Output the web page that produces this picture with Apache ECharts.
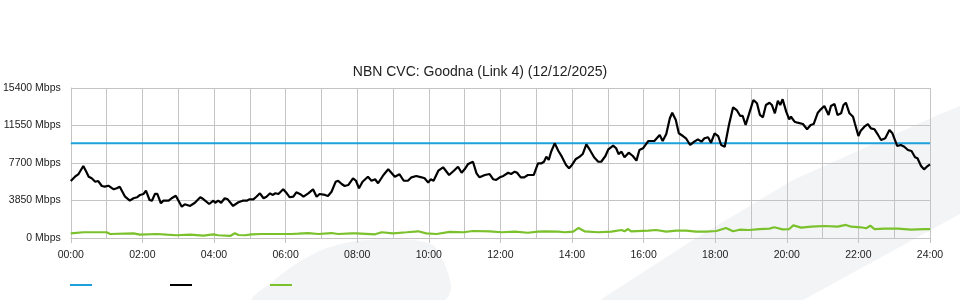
<!DOCTYPE html>
<html><head><meta charset="utf-8">
<script src="https://cdn.jsdelivr.net/npm/echarts@6/dist/echarts.min.js"></script>
<style>html,body{margin:0;padding:0;background:#fff}#c{width:960px;height:300px}</style>
</head><body><div id="c"></div>
<script>
const titleText = 'NBN CVC: Goodna (Link 4) (12/12/2025)';
const yTicks = [0, 3850, 7700, 11550, 15400];
const xTickHours = [0,2,4,6,8,10,12,14,16,18,20,22,24];
// [minute of day, Mbps]
const capacity = [[0,9720],[1440,9720]];
const traffic = [[0,5850],[7,6290],[13,6570],[16,6400],[21,7390],[26,6810],[30,6290],[35,6130],[41,5780],[46,5850],[52,5340],[57,5270],[63,5370],[72,5000],[77,5100],[82,5270],[85,5100],[91,4240],[99,3830],[105,4080],[111,4180],[116,4420],[122,4520],[126,4860],[132,3900],[136,3830],[141,4520],[145,4520],[151,3560],[155,3830],[164,3830],[169,4080],[176,4340],[186,3210],[191,3460],[200,3290],[208,3620],[217,4180],[222,4000],[232,3490],[239,3830],[242,3620],[247,3830],[252,3620],[258,4080],[263,3970],[272,3290],[281,3670],[288,3830],[295,3830],[299,3970],[306,3970],[311,4240],[317,4590],[323,4080],[328,4240],[334,4590],[338,4420],[343,4590],[348,4520],[356,5000],[362,4590],[367,4180],[373,4240],[378,4690],[384,4520],[390,4240],[398,4590],[406,5000],[412,4240],[417,4520],[426,4420],[431,4310],[437,4750],[444,5780],[448,5880],[454,5540],[459,5340],[465,5440],[473,6130],[478,5880],[483,5100],[489,5780],[498,6290],[504,5880],[510,6030],[515,5620],[524,6470],[532,7050],[538,6640],[543,6290],[551,6540],[558,5880],[565,5880],[571,6230],[579,6370],[588,6230],[593,6130],[599,5680],[603,6030],[608,5880],[616,6910],[624,7260],[634,6470],[642,6910],[649,7320],[655,6700],[660,7050],[666,7600],[674,7830],[680,6640],[685,6230],[694,6470],[702,6570],[708,6030],[713,5960],[719,6230],[725,6370],[733,6700],[738,6570],[744,6810],[748,6700],[754,6230],[760,6230],[766,6470],[776,6470],[783,7670],[789,7670],[793,7830],[797,8350],[801,8010],[805,8860],[811,9720],[817,8960],[823,8350],[830,7500],[835,7160],[840,7500],[846,8080],[853,8350],[858,8620],[864,9620],[870,9040],[877,8290],[884,7830],[889,7830],[896,8420],[901,9110],[909,9480],[914,9210],[918,8620],[923,8860],[928,8290],[935,8760],[942,8420],[948,7940],[953,9040],[959,9210],[965,9720],[968,9960],[978,9960],[987,10580],[992,9960],[998,10680],[1004,12290],[1008,12860],[1014,12120],[1019,10750],[1026,10470],[1031,10240],[1038,9550],[1045,9890],[1051,10130],[1057,9890],[1062,10240],[1068,10340],[1073,9780],[1079,10750],[1085,10470],[1090,9550],[1096,9370],[1103,11600],[1110,13420],[1116,13140],[1122,12530],[1126,12530],[1131,11600],[1137,12800],[1144,14170],[1150,13830],[1155,12630],[1160,12390],[1165,13660],[1171,13890],[1175,13660],[1180,12800],[1185,14100],[1189,13660],[1193,14240],[1199,12970],[1204,12190],[1207,12450],[1213,11940],[1218,11840],[1227,11700],[1234,11160],[1240,11600],[1245,11700],[1252,12860],[1257,13210],[1263,13550],[1270,12630],[1274,13550],[1280,13760],[1285,12630],[1291,12800],[1295,13660],[1299,13890],[1305,12800],[1311,12450],[1314,11780],[1320,10470],[1324,11020],[1330,11430],[1336,11700],[1341,11260],[1347,11160],[1353,10580],[1358,10060],[1365,10240],[1372,11090],[1377,10750],[1385,9450],[1391,9550],[1397,9370],[1403,9040],[1409,8930],[1415,8290],[1419,8180],[1425,7390],[1430,7050],[1436,7390],[1440,7570]];
const upload = [[0,480],[21,590],[44,590],[60,590],[66,410],[105,480],[116,340],[144,410],[161,340],[177,280],[200,340],[222,240],[239,380],[247,280],[267,210],[275,480],[281,310],[292,280],[303,380],[320,410],[348,410],[370,410],[381,440],[398,510],[415,410],[437,510],[448,410],[471,480],[479,480],[510,380],[521,590],[540,480],[563,590],[582,690],[596,480],[613,410],[635,620],[658,590],[674,720],[702,690],[722,590],[744,650],[766,540],[783,650],[794,690],[817,650],[828,590],[842,650],[851,1030],[861,690],[884,590],[906,650],[923,820],[928,690],[934,920],[939,690],[968,750],[981,820],[998,650],[1015,750],[1031,750],[1048,650],[1065,650],[1082,720],[1098,1030],[1110,690],[1121,850],[1137,820],[1154,920],[1171,960],[1179,1100],[1193,890],[1204,920],[1211,1300],[1224,1060],[1241,1160],[1263,1230],[1285,1160],[1299,1340],[1308,1160],[1324,1100],[1333,1000],[1340,1260],[1347,920],[1364,960],[1386,960],[1408,850],[1430,920],[1440,920]];

const FONT = "'Liberation Sans', Arial, sans-serif";
const chart = echarts.init(document.getElementById('c'), null, {renderer: 'canvas'});
const wm = '#f3f4f6';
chart.setOption({
  animation: false,
  backgroundColor: '#fff',
  title: {text: titleText, left: 'center', top: 60, textStyle: {fontFamily: FONT, fontSize: 14, fontWeight: 'normal', color: '#222'}},
  graphic: {elements: [
    {type: 'polygon', z: -10, silent: true, shape: {points: [[253,300],[272,282],[296,264],[322,250],[350,242],[385,239],[420,241],[436,248],[451,285],[444,300]], smooth: 0.3}, style: {fill: wm}},
    {type: 'polygon', z: -10, silent: true, shape: {points: [[600,300],[693,240],[793,180],[938,115],[960,106],[960,214],[803,300]]}, style: {fill: wm}}
  ]},
  legend: {
    left: 70, top: 284, padding: 0, icon: 'rect', itemWidth: 22, itemHeight: 2, itemGap: 78,
    formatter: () => '', selectedMode: false,
    data: ['Capacity', 'Download', 'Upload']
  },
  grid: {left: 70, right: 30, top: 88, bottom: 62, containLabel: false},
  xAxis: {
    type: 'value', min: 0, max: 1440, interval: 120,
    axisLine: {show: true, lineStyle: {color: '#c4c4c4', width: 1}},
    axisTick: {show: true, length: 5, lineStyle: {color: '#c4c4c4'}},
    axisLabel: {fontFamily: FONT, fontSize: 10.5, color: '#222', margin: 12,
      formatter: v => xTickHours.includes(v / 60) ? String(v / 60).padStart(2, '0') + ':00' : ''},
    splitLine: {show: true, lineStyle: {color: '#c4c4c4', width: 1}},
    minorTick: {show: false, splitNumber: 2},
    minorSplitLine: {show: true, lineStyle: {color: '#c4c4c4', width: 1}}
  },
  yAxis: {
    type: 'value', min: yTicks[0], max: yTicks[yTicks.length - 1], interval: 3850,
    axisLine: {show: true, lineStyle: {color: '#c4c4c4'}},
    axisTick: {show: false},
    axisLabel: {fontFamily: FONT, fontSize: 10.5, color: '#222', margin: 10, formatter: v => v + ' Mbps'},
    splitLine: {show: true, lineStyle: {color: '#c4c4c4', width: 1}}
  },
  series: [
    {name: 'Capacity', type: 'line', data: capacity, symbol: 'none', color: '#1ea0dc', lineStyle: {width: 2, color: '#1ea0dc'}},
    {name: 'Download', type: 'line', data: traffic, symbol: 'none', color: '#000', lineStyle: {width: 2.2, color: '#000'}},
    {name: 'Upload', type: 'line', data: upload, symbol: 'none', color: '#7ac12c', lineStyle: {width: 2.2, color: '#7ac12c'}}
  ]
});
</script></body></html>
